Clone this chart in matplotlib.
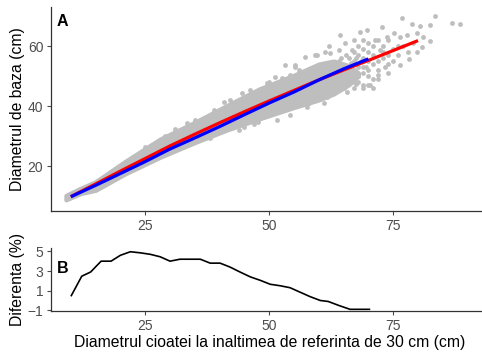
import matplotlib
matplotlib.use("Agg")
import matplotlib.pyplot as plt

plt.rcParams['font.family'] = ['Liberation Sans', 'DejaVu Sans']

# ---- Panel A: dense cloud envelope (x, lower, upper) ----
band_x = [9, 12, 15, 21, 28, 35, 41.5, 48, 55, 60, 63, 66, 68]
band_lo = [8.7, 10.8, 11.9, 17.4, 22.9, 27.8, 32.0, 35.7, 39.5, 42.0, 44.0, 47.0, 50.0]
band_hi = [10.2, 12.6, 14.8, 21.6, 29.0, 34.6, 40.2, 45.7, 50.3, 54.0, 55.0, 53.5, 51.0]

# ---- Panel A: scattered observations outside the dense band ----
pts_x = [83.5, 86.8, 88.5, 82.5, 80.3, 78.8, 76.8, 79.8, 82.5, 80.8, 79.8, 78.1, 76.4, 73.4,
         72.0, 70.4, 69.0, 67.0, 65.7, 64.3, 68.3, 69.7, 72.7, 73.7, 71.4, 76.4, 77.8, 75.1,
         69.0, 65.3, 66.7, 72.4, 61.3, 59.6, 57.3, 53.2, 55.2, 51.2, 52.6, 54.2, 62.3, 64.0,
         55.2, 59.3, 49.5, 46.2, 44.5, 40.8, 42.1, 38.8, 35.1, 33.4,
         57.6, 59.3, 61.0, 54.2, 51.6, 47.8, 61.6,
         68, 70, 72, 74, 70, 67, 68, 66, 71, 73, 75, 77, 78, 75, 69, 72, 76, 74, 71, 67, 66,
         69, 73, 76, 79, 81, 70, 74, 63, 65, 62, 64, 66, 68,
         67, 68, 69, 70, 71, 72, 68, 70, 67, 69, 71, 73, 74, 66, 65, 70, 72, 67, 69, 71,
         58, 60, 62, 64, 56, 50, 47, 44, 31, 29, 25, 38, 45,
         66, 67.5, 68.5, 69.5, 66.5, 67.5, 65.5, 64.5]
pts_y = [70.1, 67.8, 67.2, 67.0, 66.8, 67.3, 69.2, 64.2, 61.8, 59.8, 58.1, 55.7, 53.7, 53.1,
         50.3, 47.0, 45.9, 45.9, 44.8, 63.7, 64.8, 65.3, 66.4, 63.1, 62.0, 63.1, 63.7, 64.2,
         62.0, 60.9, 58.7, 58.7, 58.1, 57.0, 56.4, 53.7, 53.1, 49.8, 49.2, 50.3, 57.6, 58.7,
         53.7, 57.0, 47.6, 45.3, 44.2, 41.4, 42.0, 38.7, 35.3, 34.2,
         39.8, 42.0, 40.9, 37.0, 35.3, 34.8, 43.1,
         50, 52, 55, 57, 58, 55, 60, 52, 49, 60, 59, 60, 58, 55, 56, 62, 57, 51, 57, 62, 56,
         53, 56, 60, 61, 63, 61, 62, 45, 47, 60, 55, 50, 48,
         48, 53, 51, 50, 54, 52, 57, 55, 58, 59, 60, 58, 54, 48, 46, 47, 49, 51, 47, 46,
         41, 43, 44, 46, 52, 48, 34, 32, 32.5, 30, 26.5, 29.5, 33,
         50, 47.5, 55, 53, 54.5, 56, 57, 56]

# ---- Panel A: fitted curves ----
red_x = [10, 15, 20, 25, 30, 35, 40, 45, 50, 55, 60, 65, 70, 75, 80]
red_y = [9.8, 14.0, 18.3, 22.5, 26.7, 30.6, 34.4, 38.1, 41.7, 45.2, 48.7, 52.0, 55.2, 58.5, 61.8]
blue_x = [10, 15, 20, 25, 30, 35, 40, 45, 50, 55, 60, 65, 70]
blue_y = [9.75, 13.55, 17.5, 21.47, 25.67, 29.36, 33.14, 37.1, 41.0, 44.67, 48.68, 52.37, 55.7]

# ---- Panel B: difference (%) ----
diff_x = [10.1, 12.2, 14.0, 16.1, 18.1, 20.0, 22.0, 24.0, 26.0, 28.0, 30.0, 32.0, 36.1,
          38.1, 40.1, 42.1, 44.1, 46.2, 48.2, 50.2, 52.2, 54.2, 56.2, 58.2, 60.3, 61.9,
          64.0, 66.3, 70.2]
diff_y = [0.5, 2.47, 2.9, 4.0, 4.0, 4.6, 4.96, 4.85, 4.7, 4.45, 4.0, 4.2, 4.2,
          3.8, 3.8, 3.4, 2.9, 2.4, 2.05, 1.65, 1.5, 1.3, 0.85, 0.4, 0.0, -0.1,
          -0.5, -0.9, -0.9]

xticks = [25, 50, 75]
yticks_a = [20, 40, 60]
yticks_b = [-1, 1, 3, 5]

gray_pts = '#BEBEBE'
axis_col = '#333333'
tick_col = '#4D4D4D'

W, H = 482, 353
fig = plt.figure(figsize=(W / 100, H / 100), dpi=100)
axA = fig.add_axes([51 / W, 1 - 211 / H, 430 / W, 204 / H])
axB = fig.add_axes([51 / W, 1 - 311.3 / H, 430 / W, 62.9 / H])

# Panel A
axA.fill_between(band_x, band_lo, band_hi, color=gray_pts, linewidth=3, edgecolor=gray_pts,
                 joinstyle='round', zorder=1)
axA.scatter(pts_x, pts_y, s=12, color=gray_pts, linewidths=0, zorder=1)
axA.plot(red_x, red_y, color='#FF0000', linewidth=2.3, zorder=3, solid_capstyle='butt')
axA.plot(blue_x, blue_y, color='#0000FF', linewidth=2.3, zorder=3, solid_capstyle='butt')
axA.set_xlim(6.0, 92.7)
axA.set_ylim(5.0, 73.0)
axA.set_xticks(xticks)
axA.set_yticks(yticks_a)
axA.text(0.013, 0.965, 'A', transform=axA.transAxes, fontsize=11.5, fontweight='bold',
         ha='left', va='top')

# Panel B
axB.plot(diff_x, diff_y, color='black', linewidth=1.2)
axB.set_xlim(6.0, 92.7)
axB.set_ylim(-1.1, 5.3)
axB.set_xticks(xticks)
axB.set_yticks(yticks_b)
axB.text(0.013, 0.80, 'B', transform=axB.transAxes, fontsize=11.5, fontweight='bold',
         ha='left', va='top')

for ax in (axA, axB):
    for s in ('top', 'right'):
        ax.spines[s].set_visible(False)
    for s in ('left', 'bottom'):
        ax.spines[s].set_color(axis_col)
        ax.spines[s].set_linewidth(0.9)
    ax.tick_params(axis='both', direction='out', length=3, width=0.8, color=tick_col,
                   labelcolor=tick_col, labelsize=10, pad=2.5)
    ax.set_facecolor('white')

fig.text(17.5 / W, 1 - 109 / H, 'Diametrul de baza (cm)', rotation=90, ha='center',
         va='center', fontsize=11.3, color='black')
fig.text(17.5 / W, 1 - 279 / H, 'Diferenta (%)', rotation=90, ha='center',
         va='center', fontsize=11.3, color='black')
fig.text(269.5 / W, 1 - 343 / H, 'Diametrul cioatei la inaltimea de referinta de 30 cm (cm)',
         ha='center', va='center', fontsize=11.3, color='black')

fig.savefig('out.png', dpi=100, facecolor='white')
